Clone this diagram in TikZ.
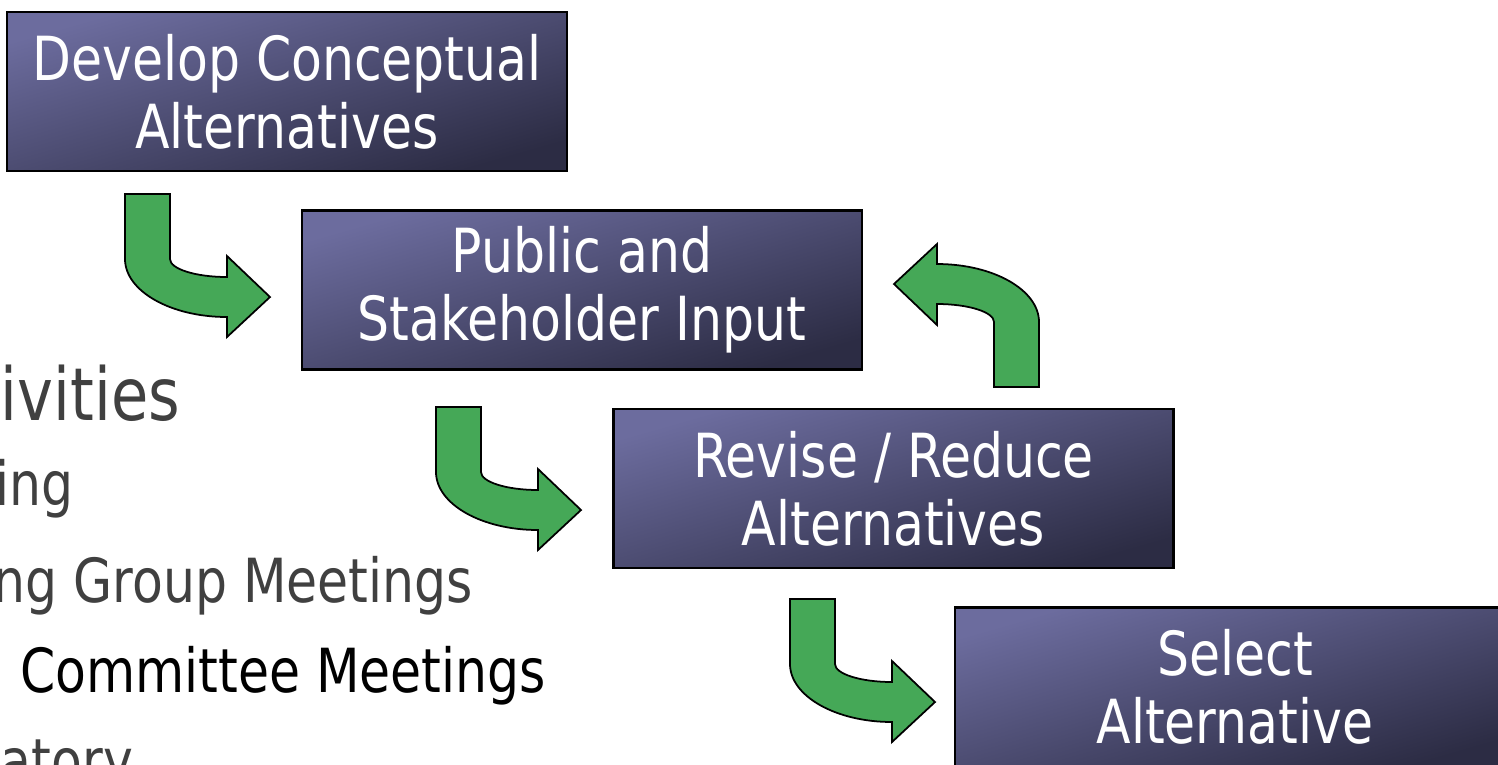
\documentclass[tikz,border=0pt]{standalone}
\usepackage{fontspec}
\setmainfont{DejaVu Sans}[FakeStretch=0.83]
\usetikzlibrary{calc}

\definecolor{boxlight}{RGB}{108,108,158}
\definecolor{boxdark}{RGB}{44,44,68}
\definecolor{arrowgreen}{RGB}{69,168,87}
\definecolor{listgray}{RGB}{64,64,64}

\begin{document}
\begin{tikzpicture}[line width=.6pt,
	stage/.style={draw=black, top color=boxlight, bottom color=boxdark, shading angle=16,
		minimum width=5.6cm, minimum height=1.59cm, inner sep=0pt, align=center,
		text=white, font=\fontsize{17.3pt}{19.3pt}\selectfont},
	listitem/.style={anchor=base east, inner sep=0pt, text=listgray,
		font=\fontsize{17.3pt}{20pt}\selectfont},
	bentarrow/.pic={
		\draw[fill=arrowgreen, line width=.5pt] (-1.02,0.65) -- (-0.57,0.65) -- (-0.57,0)
			arc[start angle=180, end angle=270, x radius=0.57, y radius=0.18]
			-- (0,0.03) -- (0.43,-0.38) -- (0,-0.78) -- (0,-0.58)
			arc[start angle=270, end angle=180, x radius=1.02, y radius=0.58] -- cycle;
	}]
	\useasboundingbox (0,0) rectangle (14.98,-7.64);
	\clip (0,0) rectangle (14.98,-7.64);
	% slide text behind the diagram
	\node[listitem, font=\fontsize{20.8pt}{24pt}\selectfont] (act) at (1.81,-4.20) {ivities};
	\node[listitem] (brief) at (0.75,-5.05) {ing};
	\node[listitem] (group) at (4.74,-6.02) {ng Group Meetings};
	\node[listitem, text=black] (comm) at (5.47,-6.92) {Committee Meetings};
	\node[listitem] (regul) at (1.34,-7.82) {atory};
	% stages
	\node[stage] (develop) at (2.87,-0.915) {Develop Conceptual\\Alternatives};
	\node[stage] (public) at ($(develop)+(2.95,-1.985)$) {Public and\\Stakeholder Input};
	\node[stage] (revise) at ($(public)+(3.115,-1.985)$) {Revise / Reduce\\Alternatives};
	\node[stage] (select) at ($(revise)+(3.415,-1.985)$) {Select\\Alternative};
	% arrows
	\pic at (2.27,-2.59) {bentarrow};
	\pic at (5.38,-4.72) {bentarrow};
	\pic at (8.92,-6.64) {bentarrow};
	\pic[rotate=180] at (9.37,-3.22) {bentarrow};
\end{tikzpicture}
\end{document}
